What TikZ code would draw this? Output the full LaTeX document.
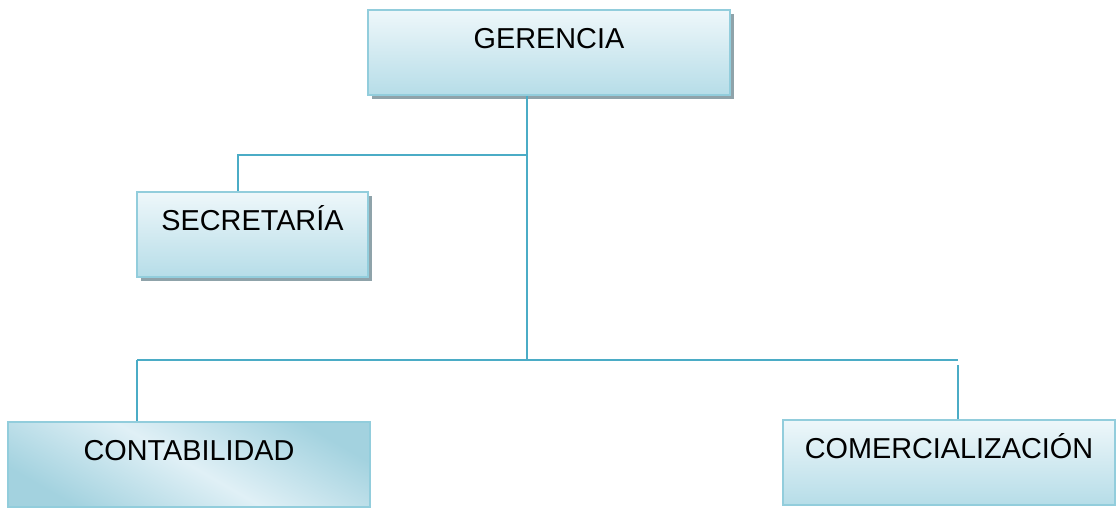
\documentclass[tikz,border=0pt]{standalone}
\usepackage{fontspec}
\setmainfont{Liberation Sans}
\usetikzlibrary{shadows}
\definecolor{linec}{RGB}{75,172,198}
\definecolor{boxline}{RGB}{146,205,220}
\definecolor{boxtop}{RGB}{238,247,250}
\definecolor{boxbot}{RGB}{182,221,232}
\definecolor{boxside}{RGB}{163,210,223}
\definecolor{boxmid}{RGB}{224,240,246}
\definecolor{shadowc}{RGB}{143,163,170}

\begin{document}
\begin{tikzpicture}[x=0.025cm, y=-0.025cm,
  unit/.style={draw=boxline, line width=1.2pt, top color=boxtop, bottom color=boxbot, inner sep=0pt,
    minimum height=2.125cm, text height=0.55cm, text depth=0.75cm, font=\fontsize{20.5}{24}\selectfont},
  lifted/.style={drop shadow={shadow xshift=0.09cm, shadow yshift=-0.09cm, fill=shadowc, opacity=1}},
  link/.style={draw=linec, line width=1.9pt}]
  \useasboundingbox (0,0) rectangle (1120,508);
  \node[unit, lifted, minimum width=9.05cm] (ger) at (549,52.5) {GERENCIA};
  \node[unit, lifted, minimum width=5.775cm] (sec) at (252.5,234.5) {SECRETARÍA};
  \node[unit, minimum width=9.05cm, left color=boxside, right color=boxside, middle color=boxmid, shading angle=150] (con) at (189,464.5) {CONTABILIDAD};
  \node[unit, minimum width=8.3cm] (com) at (949,462.5) {COMERCIALIZACIÓN};
  \coordinate (up) at (527,155);
  \coordinate (down) at (527,360);
  \coordinate (ls) at (238,155);
  \coordinate (lc) at (137,360);
  \coordinate (rc) at (958,360);
  \draw[link] (ger.south -| down) -- (down);
  \draw[link] (up) -- (ls) -- (ls |- sec.north);
  \draw[link] (lc) -- (rc);
  \draw[link] (lc) -- (lc |- con.north);
  \draw[link] ([yshift=-0.12cm]rc) -- (rc |- com.north);
\end{tikzpicture}
\end{document}
